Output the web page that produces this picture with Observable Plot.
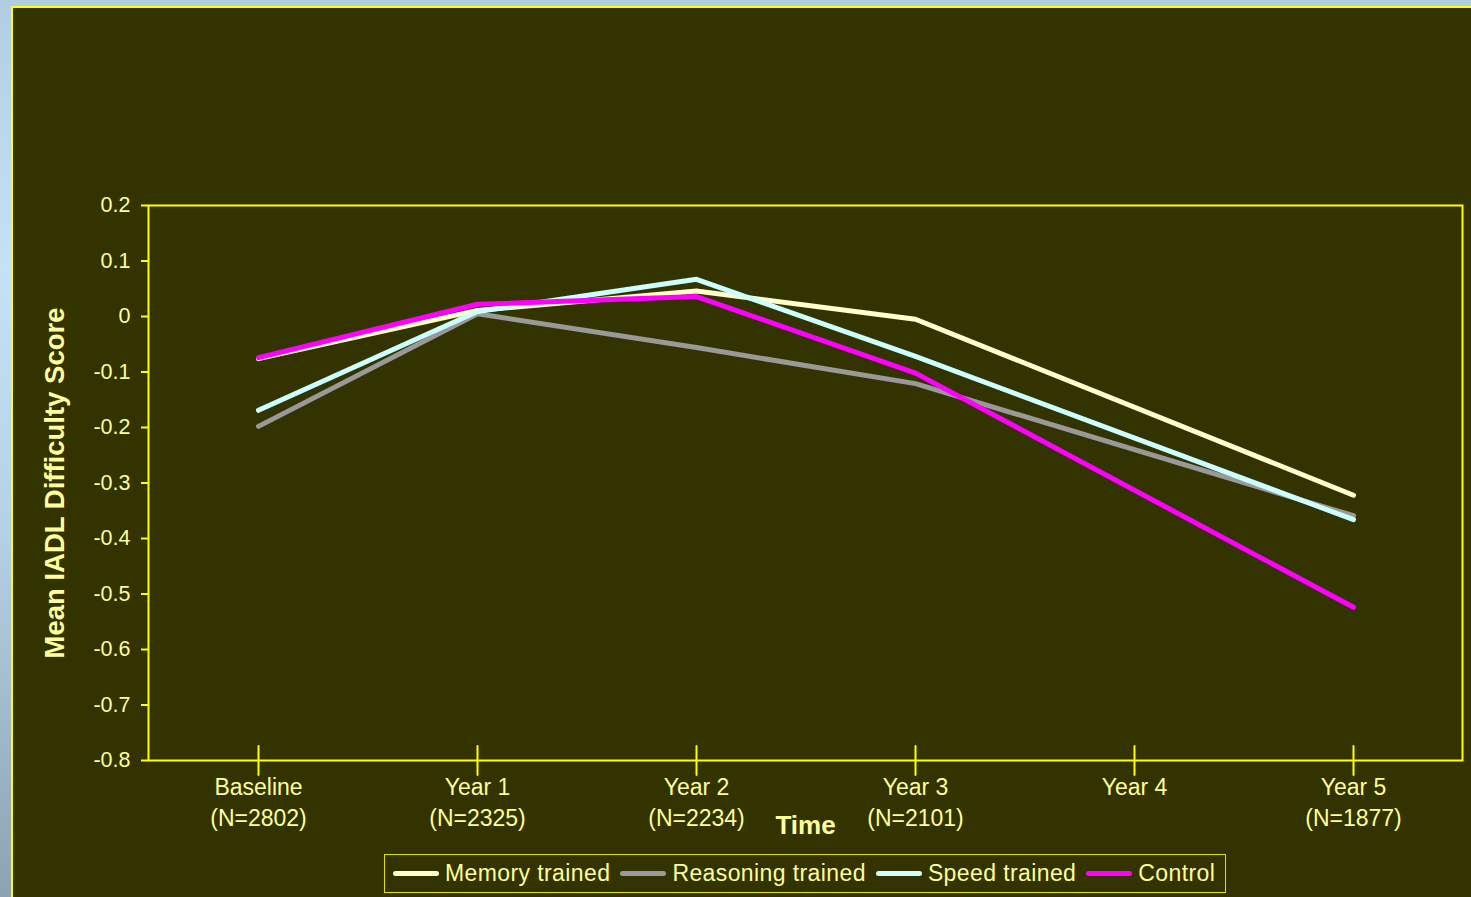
<!DOCTYPE html>
<html>
<head>
<meta charset="utf-8">
<script src="https://cdn.jsdelivr.net/npm/d3@7"></script>
<script src="https://cdn.jsdelivr.net/npm/@observablehq/plot@0.6"></script>
<style>
html, body { margin: 0; padding: 0; width: 1471px; height: 897px; overflow: hidden; }
body {
  position: relative;
  font-family: "Liberation Sans", Arial, sans-serif;
  background: linear-gradient(to bottom, #b2cde2 0%, #c4e2f6 30%, #b4d0e6 60%, #8ea2b2 100%);
}
#panel { position: absolute; left: 11px; top: 6px; width: 1520px; height: 1000px;
  border: 2px solid #ffff00; background: #333300; }
#chart { position: absolute; left: 0; top: 0; }
#chart svg { overflow: visible; }
#legend { position: absolute; left: 384px; top: 854px; height: 39px; box-sizing: border-box;
  border: 1px solid #e0e000; display: flex; align-items: center; padding: 0 10px 0 8px;
  color: #ffff99; font-size: 23px; letter-spacing: 0.4px; white-space: nowrap; }
#legend .item { display: flex; align-items: center; margin-right: 10px; }
#legend .item:last-child { margin-right: 0; }
#legend .sw { display: inline-block; width: 46px; height: 5px; border-radius: 3px; margin-right: 6px; }
</style>
</head>
<body>
<div id="panel"></div>
<div id="chart"></div>
<div id="legend"></div>
<script>
// ---- data ----
const timepoints = ["Baseline", "Year 1", "Year 2", "Year 3", "Year 4", "Year 5"];
const sampleSizes = ["(N=2802)", "(N=2325)", "(N=2234)", "(N=2101)", "", "(N=1877)"];
const seriesNames = ["Memory trained", "Reasoning trained", "Speed trained", "Control"];
const seriesColors = ["#ffffcc", "#999999", "#ccffff", "#ff00ff"];
const memoryValues    = [-0.076, 0.011, 0.046, -0.005, null, -0.322];
const reasoningValues = [-0.198, 0.005, -0.056, -0.121, null, -0.359];
const speedValues     = [-0.169, 0.009, 0.067, -0.072, null, -0.366];
const controlValues   = [-0.074, 0.022, 0.036, -0.102, null, -0.524];
const yTicks = [0.2, 0.1, 0, -0.1, -0.2, -0.3, -0.4, -0.5, -0.6, -0.7, -0.8];
const yLabel = "Mean IADL Difficulty Score";
const xLabel = "Time";

// ---- build table ----
const allValues = [memoryValues, reasoningValues, speedValues, controlValues];
const rows = [];
seriesNames.forEach((s, si) => {
  timepoints.forEach((t, ti) => {
    const v = allValues[si][ti];
    if (v != null) rows.push({series: s, time: t, value: v});
  });
});
const yMin = d3.min(yTicks), yMax = d3.max(yTicks);
const textColor = "#ffff99";
const axisColor = "#ffff00";
const tickShape = { draw(context, l) { context.moveTo(0, 0); context.lineTo(0, -l); } };

const chart = Plot.plot({
  width: 1471,
  height: 897,
  marginLeft: 148,
  marginRight: 9,
  marginTop: 205,
  marginBottom: 137,
  style: { background: "transparent", color: axisColor, fontFamily: "'Liberation Sans', Arial, sans-serif" },
  x: { type: "point", domain: timepoints, padding: 0.5 },
  y: { domain: [yMin, yMax] },
  color: { domain: seriesNames, range: seriesColors },
  marks: [
    Plot.frame({ stroke: axisColor, strokeWidth: 2 }),
    Plot.axisY({
      ticks: yTicks, tickSize: 7, tickPadding: 11, fontSize: 21.5, fill: textColor,
      stroke: axisColor, strokeWidth: 2,
      tickFormat: d => d === 0 ? "0" : d.toFixed(1), label: null
    }),
    Plot.axisX({
      tickSize: 0, tickPadding: 12, fontSize: 23, lineHeight: 1.35, fill: textColor,
      tickFormat: d => { const n = sampleSizes[timepoints.indexOf(d)]; return n ? d + "\n" + n : d; },
      label: null
    }),
    Plot.vector(timepoints, {
      x: d => d, y: () => yMin, length: 29, rotate: 0, anchor: "middle",
      shape: tickShape, stroke: axisColor, strokeWidth: 2, fill: "none"
    }),
    Plot.text([yLabel], {
      text: d => d, frameAnchor: "left", textAnchor: "middle", dx: -93, rotate: -90,
      fontSize: 27.5, fontWeight: "bold", fill: textColor
    }),
    Plot.text([xLabel], {
      text: d => d, frameAnchor: "bottom", textAnchor: "middle", dy: 73,
      fontSize: 26, fontWeight: "bold", fill: textColor
    }),
    Plot.lineY(rows, {
      x: "time", y: "value", z: "series", stroke: "series",
      strokeWidth: 5, strokeLinecap: "round", strokeLinejoin: "round"
    })
  ]
});
document.getElementById("chart").appendChild(chart);

// ---- legend ----
const legend = document.getElementById("legend");
seriesNames.forEach((s, i) => {
  const item = document.createElement("div");
  item.className = "item";
  const sw = document.createElement("span");
  sw.className = "sw";
  sw.style.background = seriesColors[i];
  const label = document.createElement("span");
  label.textContent = s;
  item.appendChild(sw);
  item.appendChild(label);
  legend.appendChild(item);
});
</script>
</body>
</html>
